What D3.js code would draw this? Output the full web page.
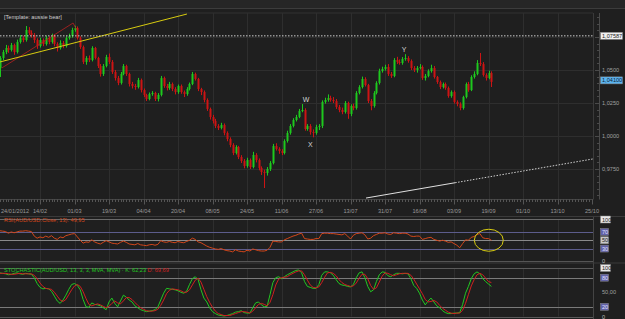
<!DOCTYPE html>
<html>
<head>
<meta charset="utf-8">
<script src="https://cdnjs.cloudflare.com/ajax/libs/d3/7.8.5/d3.min.js"></script>
<style>
body { margin: 0; background: #1f1f1f; }
svg { display: block; font-family: "Liberation Sans", Arial, sans-serif; }
</style>
</head>
<body>
<svg width="625" height="319"></svg>
<script>
// AUD/USD daily, 24/01/2012 .. 20/09/2012 (open = previous close)
var firstOpen = 1.0500;
var closes = [
    1.0515, 1.0591, 1.0636, 1.0667, 1.0652, 1.0689, 1.0636, 1.0712, 1.0742, 1.0727,
    1.0803, 1.0780, 1.0765, 1.0727, 1.0682, 1.0727, 1.0697, 1.0742, 1.0712, 1.0758,
    1.0697, 1.0667, 1.0705, 1.0682, 1.0742, 1.0758, 1.0803, 1.0818, 1.0742, 1.0674,
    1.0561, 1.0591, 1.0576, 1.0667, 1.0591, 1.0530, 1.0470, 1.0530, 1.0598, 1.0561,
    1.0485, 1.0439, 1.0402, 1.0470, 1.0530, 1.0470, 1.0394, 1.0379, 1.0371, 1.0424,
    1.0348, 1.0311, 1.0280, 1.0318, 1.0326, 1.0280, 1.0311, 1.0439, 1.0379, 1.0364,
    1.0394, 1.0356, 1.0333, 1.0379, 1.0333, 1.0318, 1.0356, 1.0394, 1.0470, 1.0432,
    1.0356, 1.0333, 1.0273, 1.0205, 1.0144, 1.0114, 1.0076, 1.0061, 1.0083, 1.0023,
    0.9977, 0.9932, 0.9871, 0.9917, 0.9841, 0.9811, 0.9773, 0.9818, 0.9765, 0.9856,
    0.9818, 0.9758, 0.9727, 0.9720, 0.9750, 0.9795, 0.9924, 0.9902, 0.9886, 0.9871,
    0.9962, 1.0023, 1.0076, 1.0121, 1.0144, 1.0189, 1.0197, 1.0053, 1.0076, 1.0030,
    1.0023, 1.0068, 1.0076, 1.0258, 1.0273, 1.0288, 1.0273, 1.0265, 1.0220, 1.0197,
    1.0182, 1.0250, 1.0167, 1.0227, 1.0212, 1.0326, 1.0371, 1.0432, 1.0386, 1.0265,
    1.0227, 1.0326, 1.0402, 1.0492, 1.0508, 1.0523, 1.0470, 1.0455, 1.0576, 1.0561,
    1.0553, 1.0583, 1.0591, 1.0568, 1.0515, 1.0500, 1.0515, 1.0523, 1.0439, 1.0455,
    1.0492, 1.0515, 1.0447, 1.0409, 1.0371, 1.0394, 1.0364, 1.0303, 1.0333, 1.0258,
    1.0242, 1.0212, 1.0295, 1.0394, 1.0348, 1.0447, 1.0470, 1.0553, 1.0545, 1.0462,
    1.0439, 1.0477, 1.0410
];
var highs = [
    1.0530, 1.0605, 1.0652, 1.0690, 1.0685, 1.0705, 1.0700, 1.0730, 1.0765, 1.0760,
    1.0833, 1.0825, 1.0800, 1.0780, 1.0740, 1.0745, 1.0740, 1.0760, 1.0755, 1.0775,
    1.0770, 1.0710, 1.0725, 1.0720, 1.0755, 1.0775, 1.0820, 1.0835, 1.0830, 1.0755,
    1.0685, 1.0605, 1.0610, 1.0680, 1.0675, 1.0600, 1.0545, 1.0545, 1.0615, 1.0625,
    1.0575, 1.0500, 1.0455, 1.0485, 1.0545, 1.0540, 1.0480, 1.0410, 1.0395, 1.0440,
    1.0435, 1.0360, 1.0320, 1.0330, 1.0340, 1.0335, 1.0325, 1.0455, 1.0450, 1.0395,
    1.0410, 1.0405, 1.0370, 1.0390, 1.0390, 1.0345, 1.0370, 1.0405, 1.0485, 1.0480,
    1.0440, 1.0365, 1.0345, 1.0285, 1.0215, 1.0160, 1.0130, 1.0090, 1.0100, 1.0095,
    1.0035, 0.9990, 0.9945, 0.9930, 0.9925, 0.9855, 0.9825, 0.9835, 0.9830, 0.9880,
    0.9870, 0.9830, 0.9770, 0.9745, 0.9765, 0.9810, 0.9940, 0.9945, 0.9915, 0.9900,
    0.9975, 1.0040, 1.0090, 1.0135, 1.0160, 1.0205, 1.0242, 1.0210, 1.0090, 1.0090,
    1.0050, 1.0085, 1.0090, 1.0270, 1.0290, 1.0315, 1.0305, 1.0295, 1.0280, 1.0235,
    1.0215, 1.0265, 1.0260, 1.0240, 1.0245, 1.0340, 1.0385, 1.0450, 1.0445, 1.0395,
    1.0280, 1.0340, 1.0415, 1.0510, 1.0525, 1.0540, 1.0545, 1.0485, 1.0590, 1.0600,
    1.0580, 1.0598, 1.0620, 1.0605, 1.0580, 1.0530, 1.0530, 1.0545, 1.0535, 1.0470,
    1.0505, 1.0540, 1.0530, 1.0455, 1.0420, 1.0405, 1.0405, 1.0375, 1.0345, 1.0345,
    1.0270, 1.0255, 1.0305, 1.0405, 1.0410, 1.0460, 1.0490, 1.0575, 1.0629, 1.0560,
    1.0475, 1.0495, 1.0490
];
var lows = [
    1.0480, 1.0447, 1.0575, 1.0620, 1.0630, 1.0640, 1.0615, 1.0625, 1.0700, 1.0710,
    1.0715, 1.0765, 1.0745, 1.0705, 1.0660, 1.0670, 1.0680, 1.0685, 1.0695, 1.0700,
    1.0680, 1.0640, 1.0655, 1.0665, 1.0670, 1.0730, 1.0745, 1.0790, 1.0730, 1.0660,
    1.0545, 1.0540, 1.0560, 1.0565, 1.0580, 1.0515, 1.0450, 1.0455, 1.0520, 1.0545,
    1.0470, 1.0420, 1.0385, 1.0390, 1.0460, 1.0455, 1.0375, 1.0360, 1.0350, 1.0360,
    1.0330, 1.0295, 1.0265, 1.0270, 1.0305, 1.0265, 1.0262, 1.0300, 1.0365, 1.0345,
    1.0350, 1.0340, 1.0315, 1.0320, 1.0320, 1.0295, 1.0305, 1.0345, 1.0385, 1.0420,
    1.0340, 1.0310, 1.0255, 1.0190, 1.0125, 1.0095, 1.0060, 1.0045, 1.0050, 1.0005,
    0.9960, 0.9915, 0.9855, 0.9860, 0.9825, 0.9795, 0.9755, 0.9760, 0.9750, 0.9755,
    0.9800, 0.9740, 0.9705, 0.9606, 0.9700, 0.9735, 0.9785, 0.9890, 0.9865, 0.9855,
    0.9860, 0.9950, 1.0010, 1.0065, 1.0110, 1.0135, 1.0180, 1.0040, 1.0040, 1.0010,
    0.9990, 1.0010, 1.0045, 1.0060, 1.0245, 1.0260, 1.0260, 1.0250, 1.0205, 1.0180,
    1.0165, 1.0170, 1.0130, 1.0150, 1.0195, 1.0200, 1.0315, 1.0360, 1.0375, 1.0250,
    1.0195, 1.0215, 1.0315, 1.0390, 1.0480, 1.0495, 1.0455, 1.0440, 1.0445, 1.0545,
    1.0540, 1.0540, 1.0570, 1.0555, 1.0500, 1.0485, 1.0480, 1.0505, 1.0425, 1.0420,
    1.0445, 1.0480, 1.0435, 1.0395, 1.0355, 1.0360, 1.0350, 1.0290, 1.0290, 1.0245,
    1.0225, 1.0195, 1.0200, 1.0285, 1.0335, 1.0340, 1.0435, 1.0460, 1.0530, 1.0450,
    1.0420, 1.0430, 1.0371
];
var rsiValues = [
    72, 73, 72, 71, 67, 70, 68, 70, 72, 72, 73, 72, 71, 60, 55, 58, 56, 60, 57, 61,
    55, 52, 58, 56, 61, 63, 65, 66, 58, 50, 43, 46, 45, 51, 46, 43, 41, 45, 49, 46,
    43, 42, 41, 45, 48, 45, 41, 40, 39, 42, 39, 38, 37, 39, 40, 38, 40, 49, 46, 45,
    47, 45, 44, 47, 45, 44, 47, 50, 55, 52, 46, 44, 40, 36, 33, 31, 29, 28, 30, 27,
    25, 24, 22, 27, 24, 23, 22, 26, 24, 29, 27, 25, 24, 24, 26, 33, 48, 47, 46, 46,
    51, 54, 57, 60, 62, 65, 67, 54, 53, 52, 52, 54, 54, 66, 67, 67, 66, 66, 65, 64,
    63, 66, 60, 53, 62, 66, 67, 68, 63, 53, 55, 61, 64, 67, 67, 68, 65, 64, 68, 67,
    66, 67, 67, 65, 60, 59, 60, 60, 52, 54, 56, 57, 52, 50, 48, 50, 48, 45, 46, 42,
    38, 32, 42, 51, 50, 57, 59, 64, 66, 56, 54, 54, 50
];
var stochK = [
    88, 90, 89, 88, 86, 87, 89, 90, 88, 87, 89, 88, 87, 80, 68, 60, 57, 58, 57, 52,
    42, 32, 27, 34, 44, 56, 66, 68, 64, 55, 35, 20, 19, 28, 25, 24, 22, 18, 14, 30,
    38, 27, 20, 32, 44, 40, 34, 30, 22, 18, 14, 12, 10, 11, 12, 14, 20, 34, 48, 58,
    57, 56, 55, 53, 50, 48, 52, 66, 78, 82, 76, 55, 38, 30, 18, 10, 6, 3, 2, 1,
    2, 4, 6, 9, 10, 12, 8, 7, 7, 18, 28, 30, 24, 20, 21, 45, 70, 80, 82, 78,
    82, 86, 89, 92, 95, 96, 90, 72, 62, 60, 58, 58, 66, 85, 92, 92, 90, 85, 76, 68,
    65, 64, 62, 61, 66, 80, 90, 92, 80, 62, 51, 55, 72, 86, 92, 91, 84, 82, 86, 89,
    89, 88, 89, 88, 78, 64, 58, 48, 34, 24, 32, 38, 30, 22, 18, 12, 8, 6, 6, 7,
    7, 8, 25, 48, 62, 78, 88, 92, 88, 78, 72, 67, 62
];
var stochD = [
    88, 89, 89, 89, 88, 87, 87, 88, 89, 88, 88, 88, 88, 85, 78, 69, 62, 58, 57, 56,
    50, 42, 34, 31, 35, 45, 55, 63, 66, 62, 51, 37, 25, 22, 24, 26, 24, 21, 18, 21,
    27, 32, 28, 26, 32, 39, 39, 35, 29, 23, 18, 15, 12, 11, 11, 12, 15, 23, 34, 47,
    54, 57, 56, 55, 53, 50, 50, 55, 65, 75, 79, 71, 56, 41, 29, 19, 11, 6, 4, 2,
    2, 2, 4, 6, 8, 10, 10, 9, 7, 11, 18, 25, 27, 25, 22, 29, 45, 65, 77, 80,
    81, 82, 86, 89, 92, 94, 94, 86, 75, 65, 60, 59, 61, 70, 81, 90, 91, 89, 84, 76,
    70, 66, 64, 62, 63, 69, 79, 87, 87, 78, 64, 56, 59, 71, 83, 90, 89, 86, 84, 86,
    88, 89, 89, 89, 85, 77, 67, 57, 47, 35, 30, 31, 33, 30, 23, 17, 13, 9, 7, 6,
    7, 7, 13, 27, 45, 63, 76, 86, 89, 86, 79, 72, 70
];
var dateLabels = ["24/01/2012", "14/02", "01/03", "19/03", "04/04", "20/04", "08/05", "24/05", "11/06",
    "27/06", "13/07", "31/07", "16/08", "03/09", "19/09", "01/10", "13/10", "25/10"];
var dateBars = [0, 15, 27, 39, 51, 63, 75, 87, 99, 111, 123, 135, 147, 159, 171, 183, 195, 207];
var priceTicks = [0.975, 1.0, 1.025, 1.05, 1.075];
var priceLabels = [0.975, 1.0, 1.025, 1.05];
var markedLevel = 1.07587;
var rsiLevels = [70, 50, 30];
var stochLevels = [80, 20];

// drawn objects, in bar index / price
var yellowTrend = [[1.1, 1.0561], [66.1, 1.0924]];
var redTrend = [[1.7, 1.0515], [26.5, 1.0856], [27.6, 1.0811]];
var whiteTrend = [[128.4, 0.9530], [159.4, 0.9646], [207.3, 0.9826]];
var waveLabels = [
    { t: "W", bar: 107.5, p: 1.0280 },
    { t: "X", bar: 109.0, p: 0.9932 },
    { t: "Y", bar: 141.6, p: 1.0659 }
];

var svg = d3.select("svg"),
    width = +svg.attr("width"),
    height = +svg.attr("height");

var plotRight = 593,
    mainTop = 13,
    mainBottom = 199.5;

function fmt(v, d) { return v.toFixed(d).replace(".", ","); }

var x = d3.scaleLinear().domain([0, 207]).range([-3.125, 592]);
var yP = d3.scaleLinear().domain([1.0, 1.05]).range([136, 70]);
var yR = d3.scaleLinear().domain([0, 100]).range([261, 219.5]);
var yS = d3.scaleLinear().domain([0, 100]).range([316.5, 268]);

svg.append("rect").attr("width", width).attr("height", height).attr("fill", "#1f1f1f");
svg.append("rect").attr("width", width).attr("height", 8).attr("fill", "#262626");
svg.append("line").attr("x1", 0).attr("x2", width).attr("y1", 8.5).attr("y2", 8.5).attr("stroke", "#3c3c3c");
svg.append("line").attr("x1", 0).attr("x2", plotRight).attr("y1", mainTop).attr("y2", mainTop).attr("stroke", "#333");

svg.append("defs").append("clipPath").attr("id", "mainClip")
    .append("rect").attr("x", 0).attr("y", mainTop).attr("width", plotRight).attr("height", mainBottom - mainTop);

// vertical grid in all panels
var gridX = dateBars.filter(function (b) { return b > 0 && b < 207; });
[[mainTop, mainBottom], [219.5, 261], [268, 316.5]].forEach(function (r) {
    svg.append("g").selectAll("line").data(gridX).enter().append("line")
        .attr("x1", function (d) { return Math.round(x(d)) + 0.5; })
        .attr("x2", function (d) { return Math.round(x(d)) + 0.5; })
        .attr("y1", r[0]).attr("y2", r[1])
        .attr("stroke", "#2e2e2e");
});

// horizontal price grid
svg.append("g").selectAll("line").data(priceTicks).enter().append("line")
    .attr("x1", 0).attr("x2", plotRight)
    .attr("y1", function (d) { return Math.round(yP(d)) + 0.5; })
    .attr("y2", function (d) { return Math.round(yP(d)) + 0.5; })
    .attr("stroke", "#2e2e2e");

// plot border and price axis
svg.append("line").attr("x1", plotRight + 0.5).attr("x2", plotRight + 0.5).attr("y1", mainTop).attr("y2", mainBottom).attr("stroke", "#3a3a3a");
svg.append("line").attr("x1", 599.5).attr("x2", 599.5).attr("y1", mainTop).attr("y2", mainBottom).attr("stroke", "#4a4a4a");
var minorP = d3.range(0, 31).map(function (k) { return 0.95 + k * 0.005; })
    .filter(function (p) { return yP(p) > mainTop + 1 && yP(p) < mainBottom - 1; });
svg.append("g").selectAll("line").data(minorP).enter().append("line")
    .attr("x1", function (d) { return Math.abs(d * 40 - Math.round(d * 40)) < 1e-6 ? 595 : 597; }).attr("x2", 599.5)
    .attr("y1", function (d) { return Math.round(yP(d)) + 0.5; })
    .attr("y2", function (d) { return Math.round(yP(d)) + 0.5; })
    .attr("stroke", "#4a4a4a");
svg.append("g").selectAll("text").data(priceLabels).enter().append("text")
    .attr("x", 602).attr("y", function (d) { return yP(d) + 2; })
    .attr("font-size", 5.6).attr("fill", "#a0a0a0")
    .text(function (d) { return fmt(d, 4); });

// date axis
svg.append("line").attr("x1", 0).attr("x2", plotRight).attr("y1", mainBottom).attr("y2", mainBottom).attr("stroke", "#444");
svg.append("g").selectAll("line").data(d3.range(1, 208)).enter().append("line")
    .attr("x1", function (d) { return Math.round(x(d)) + 0.5; })
    .attr("x2", function (d) { return Math.round(x(d)) + 0.5; })
    .attr("y1", mainBottom)
    .attr("y2", function (d) { return dateBars.indexOf(d) >= 0 ? mainBottom + 5 : mainBottom + 2.5; })
    .attr("stroke", "#555");
svg.append("g").selectAll("text").data(dateLabels).enter().append("text")
    .attr("x", function (d, i) { return i == 0 ? 1 : x(dateBars[i]); })
    .attr("y", 213)
    .attr("text-anchor", function (d, i) { return i == 0 ? "start" : "middle"; })
    .attr("font-size", 5.6).attr("fill", "#9a9a9a")
    .text(function (d) { return d; });
svg.append("line").attr("x1", 0).attr("x2", width).attr("y1", 216.5).attr("y2", 216.5).attr("stroke", "#3a3a3a");

// candles
var candles = svg.append("g").attr("clip-path", "url(#mainClip)");
var bars = closes.map(function (c, i) {
    return { i: i, o: i == 0 ? firstOpen : closes[i - 1], h: highs[i], l: lows[i], c: c };
});
var upColor = "#1ec81e", downColor = "#cc1414";
candles.selectAll(".wick").data(bars).enter().append("line")
    .attr("class", "wick")
    .attr("x1", function (d) { return Math.round(x(d.i)) + 0.5; })
    .attr("x2", function (d) { return Math.round(x(d.i)) + 0.5; })
    .attr("y1", function (d) { return yP(d.h); })
    .attr("y2", function (d) { return yP(d.l); })
    .attr("stroke", function (d) { return d.c >= d.o ? upColor : downColor; });
candles.selectAll(".body").data(bars).enter().append("rect")
    .attr("class", "body")
    .attr("x", function (d) { return Math.round(x(d.i)) - 0.5; })
    .attr("width", 2)
    .attr("y", function (d) { return yP(Math.max(d.o, d.c)); })
    .attr("height", function (d) { return Math.max(1, Math.abs(yP(d.o) - yP(d.c))); })
    .attr("fill", function (d) { return d.c >= d.o ? upColor : downColor; });

// drawings
var pline = d3.line().x(function (d) { return x(d[0]); }).y(function (d) { return yP(d[1]); });
candles.append("path").attr("d", pline(redTrend)).attr("fill", "none").attr("stroke", "#b82020").attr("stroke-width", 0.8);
candles.append("path").attr("d", pline(yellowTrend)).attr("fill", "none").attr("stroke", "#d8cc10").attr("stroke-width", 1);
candles.append("line")
    .attr("x1", 0).attr("x2", plotRight)
    .attr("y1", yP(markedLevel)).attr("y2", yP(markedLevel))
    .attr("stroke", "#d0d0d0").attr("stroke-dasharray", "1.5,1.5");
candles.append("path").attr("d", pline(whiteTrend.slice(0, 2))).attr("fill", "none").attr("stroke", "#e0e0e0").attr("stroke-width", 1);
candles.append("path").attr("d", pline(whiteTrend.slice(1))).attr("fill", "none").attr("stroke", "#d0d0d0").attr("stroke-width", 1).attr("stroke-dasharray", "1.5,1.5");

svg.append("g").selectAll("text").data(waveLabels).enter().append("text")
    .attr("x", function (d) { return x(d.bar); })
    .attr("y", function (d) { return yP(d.p) + 2.5; })
    .attr("text-anchor", "middle")
    .attr("font-size", 7).attr("fill", "#d4d4d4")
    .text(function (d) { return d.t; });

svg.append("text").attr("x", 4).attr("y", 19)
    .attr("font-size", 5.6).attr("fill", "#d0d0d0")
    .text("[Template: aussie bear]");

// boxed value labels on the right
function boxLabel(txt, yc, fill, color, w) {
    svg.append("rect").attr("x", 600.5).attr("y", yc - 3.5).attr("width", w).attr("height", 7)
        .attr("fill", fill).attr("stroke", "#888").attr("stroke-width", 0.5);
    svg.append("text").attr("x", 602).attr("y", yc + 2)
        .attr("font-size", 5.6).attr("fill", color).text(txt);
}
boxLabel(fmt(markedLevel, 5), yP(markedLevel), "#f0f0f0", "#222", 22);
boxLabel(fmt(closes[closes.length - 1], 5), yP(closes[closes.length - 1]) - 1.5, "#5ab4f0", "#102030", 22);

// RSI panel
svg.append("line").attr("x1", 0).attr("x2", plotRight).attr("y1", yR(100)).attr("y2", yR(100)).attr("stroke", "#6a6a6a");
svg.append("g").selectAll("line").data(rsiLevels).enter().append("line")
    .attr("x1", 0).attr("x2", plotRight)
    .attr("y1", function (d) { return Math.round(yR(d)) + 0.5; })
    .attr("y2", function (d) { return Math.round(yR(d)) + 0.5; })
    .attr("stroke", function (d) { return d == 50 ? "#8a8a8a" : "#5c5c8c"; });
var rline = d3.line().x(function (d, i) { return x(i); }).y(function (d) { return yR(d); });
svg.append("path").attr("d", rline(rsiValues)).attr("fill", "none").attr("stroke", "#d2461a").attr("stroke-width", 1);
svg.append("text").attr("x", 4).attr("y", 222)
    .attr("font-size", 5.6).attr("fill", "#d2461a")
    .text("RSI(AUD/USD.Close, 13): " + fmt(rsiValues[rsiValues.length - 1] - 0.05, 2));
svg.append("ellipse").attr("cx", x(171.1)).attr("cy", yR(50)).attr("rx", 14.5).attr("ry", 11)
    .attr("fill", "none").attr("stroke", "#d8cc10").attr("stroke-width", 1);

svg.append("line").attr("x1", plotRight + 0.5).attr("x2", plotRight + 0.5).attr("y1", 217).attr("y2", 319).attr("stroke", "#444");
svg.append("line").attr("x1", 0).attr("x2", plotRight).attr("y1", 261.5).attr("y2", 261.5).attr("stroke", "#555");
svg.append("line").attr("x1", 0).attr("x2", width).attr("y1", 263).attr("y2", 263).attr("stroke", "#3a3a3a");

boxLabel("100", yR(100), "#e8e8e8", "#222", 10);
boxLabel("70", yR(70), "#6262a8", "#e0e0ff", 8);
boxLabel("50", yR(50), "#c8c8c8", "#222", 8);
boxLabel("30", yR(30), "#6262a8", "#e0e0ff", 8);

// Stochastic panel
[100, 0].forEach(function (v) {
    svg.append("line").attr("x1", 0).attr("x2", plotRight).attr("y1", Math.round(yS(v)) + 0.5).attr("y2", Math.round(yS(v)) + 0.5).attr("stroke", "#5a5a5a");
});
svg.append("g").selectAll("line").data(stochLevels).enter().append("line")
    .attr("x1", 0).attr("x2", plotRight)
    .attr("y1", function (d) { return Math.round(yS(d)) + 0.5; })
    .attr("y2", function (d) { return Math.round(yS(d)) + 0.5; })
    .attr("stroke", "#7a7a7a");
var sline = d3.line().x(function (d, i) { return x(i); }).y(function (d) { return yS(d); });
svg.append("path").attr("d", sline(stochK)).attr("fill", "none").attr("stroke", "#22c822").attr("stroke-width", 1);
svg.append("path").attr("d", sline(stochD)).attr("fill", "none").attr("stroke", "#d02020").attr("stroke-width", 1);

var st = svg.append("text").attr("x", 4).attr("y", 272).attr("font-size", 5.6);
st.append("tspan").attr("fill", "#22c822").text("STOCHASTIC(AUD/USD, 13, 3, 3, MVA, MVA) \u00b7  K: 62,23  ");
st.append("tspan").attr("fill", "#d02020").text("D: 69,69");

svg.append("text").attr("x", 602).attr("y", yR(0) + 2).attr("font-size", 5.6).attr("fill", "#bbb").text("0");
boxLabel("100", yS(100), "#e8e8e8", "#222", 10);
boxLabel("80", yS(80), "#6262a8", "#e0e0ff", 8);
svg.append("text").attr("x", 602).attr("y", yS(50) + 2).attr("font-size", 5.6).attr("fill", "#a0a0a0").text(fmt(50, 2));
boxLabel("20", yS(20), "#6262a8", "#e0e0ff", 8);
svg.append("text").attr("x", 602).attr("y", yS(0) + 2).attr("font-size", 5.6).attr("fill", "#bbb").text("0");
</script>
</body>
</html>
